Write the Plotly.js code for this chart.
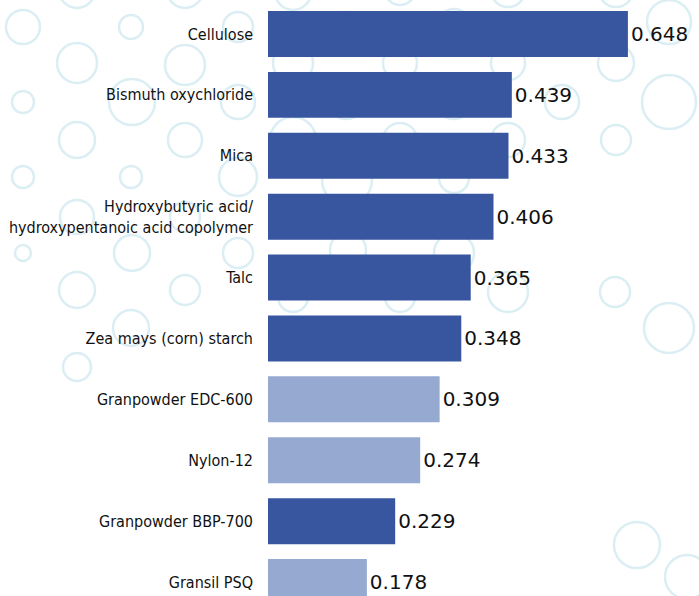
<!DOCTYPE html>
<html>
<head>
<meta charset="utf-8">
<script src="https://cdn.plot.ly/plotly-3.0.1.min.js"></script>
<style>
  html, body { margin: 0; padding: 0; background: #ffffff; }
  #chart { width: 699px; height: 596px; }
  .ytick text { font-stretch: condensed; }
</style>
</head>
<body>
<div id="chart"></div>
<script>
// ---- data ----
const categories = [
  "Cellulose",
  "Bismuth oxychloride",
  "Mica",
  "Hydroxybutyric acid/<br>hydroxypentanoic acid copolymer",
  "Talc",
  "Zea mays (corn) starch",
  "Granpowder EDC-600",
  "Nylon-12",
  "Granpowder BBP-700",
  "Gransil PSQ"
];
const values = [0.648, 0.439, 0.433, 0.406, 0.365, 0.348, 0.309, 0.274, 0.229, 0.178];
const groups = ["dark", "dark", "dark", "dark", "dark", "dark", "light", "light", "dark", "light"];
const valueLabels = ["0.648", "0.439", "0.433", "0.406", "0.365", "0.348", "0.309", "0.274", "0.229", "0.178"];

// ---- styling ----
const colorMap = { dark: "#3856a0", light: "#95a9d1" };
const W = 699, H = 596, ML = 268;

// decorative background circles: [x px, y px, r px]
const bubbles = [
  [77,-10,18],[185,-10,18],[293,-8,18],[400,-10,15],[508,-10,17],[616,-10,17],
  [23,27,17],[131,27,12],[238,27,15],[346,27,15],[454,27,18],[562,27,12],[669,22,22],
  [77,63,20],[185,65,20],[293,63,20],[400,63,17],[508,63,17],[616,63,18],
  [23,102,11],[132,102,23],[238,102,17],[346,102,17],[454,102,17],[562,102,17],[669,102,27],
  [77,140,18],[185,140,17],[293,140,23],[400,140,17],[508,140,17],[616,140,15],
  [23,177,11],[131,177,11],[238,177,19],[347,180,25],[454,178,15],
  [77,217,17],[185,217,15],[293,217,18],[400,217,15],
  [23,253,8],[132,253,18],[238,253,15],[348,250,18],[454,253,20],
  [77,290,18],[185,290,15],[293,297,15],[400,297,15],[508,292,20],[615,292,15],
  [131,328,18],[669,328,25],
  [77,367,14],
  [637,545,23],[687,577,22]
];
const pw = W - ML, ph = H;
const px = x => (x - ML) / pw;
const py = y => 1 - y / ph;
const shapes = bubbles.map(([x, y, r]) => ({
  type: "circle", xref: "paper", yref: "paper", layer: "below",
  x0: px(x - r), x1: px(x + r), y0: py(y + r), y1: py(y - r),
  line: { color: "#dbeef4", width: 2.5 }, fillcolor: "rgba(0,0,0,0)"
}));

const trace = {
  type: "bar",
  orientation: "h",
  y: categories,
  x: values,
  text: valueLabels,
  textposition: "outside",
  cliponaxis: false,
  textfont: { family: "DejaVu Sans", size: 20, color: "#111111" },
  marker: { color: groups.map(g => colorMap[g]) },
  width: 0.755,
  hoverinfo: "none"
};

const layout = {
  width: W, height: H,
  margin: { l: ML, r: 0, t: 0, b: 0, pad: 0 },
  paper_bgcolor: "rgba(0,0,0,0)",
  plot_bgcolor: "rgba(0,0,0,0)",
  showlegend: false,
  xaxis: {
    range: [0, 0.776], visible: false, fixedrange: true
  },
  yaxis: {
    type: "category",
    range: [9.229, -0.558],
    showgrid: false, zeroline: false, showline: false,
    ticks: "", ticklabelstandoff: 14,
    tickfont: { family: "DejaVu Sans Condensed, DejaVu Sans, sans-serif", size: 16, color: "#111111" },
    fixedrange: true
  },
  shapes: shapes,
  font: { family: "DejaVu Sans" }
};

Plotly.newPlot("chart", [trace], layout, { displayModeBar: false, staticPlot: true });
</script>
</body>
</html>
